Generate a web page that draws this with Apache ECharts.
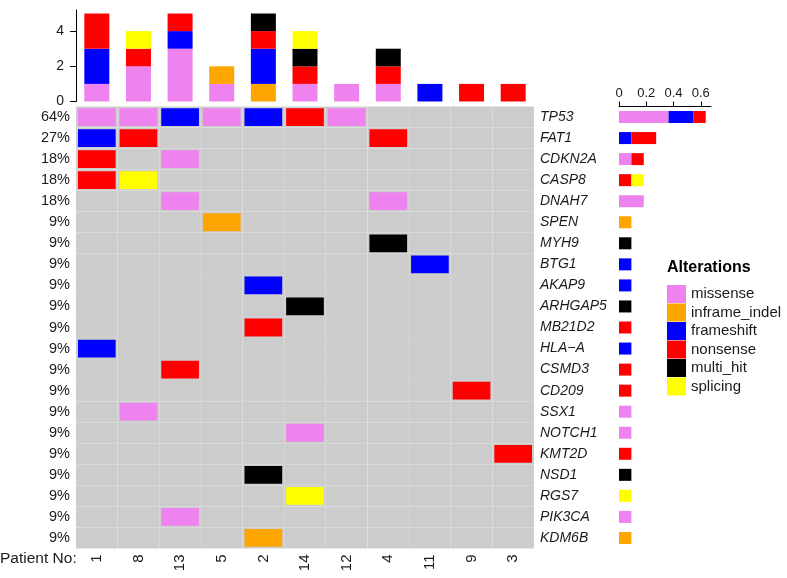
<!DOCTYPE html>
<html><head><meta charset="utf-8">
<script src="https://cdn.jsdelivr.net/npm/echarts@6/dist/echarts.min.js"></script>
<style>html,body{margin:0;padding:0;background:#fff}#c{width:787px;height:578px}</style>
</head><body><div id="c"></div>
<script>
const patients = ['1','8','13','5','2','14','12','4','11','9','3'];
const genes = ['TP53','FAT1','CDKN2A','CASP8','DNAH7','SPEN','MYH9','BTG1','AKAP9','ARHGAP5','MB21D2','HLA\u2212A','CSMD3','CD209','SSX1','NOTCH1','KMT2D','NSD1','RGS7','PIK3CA','KDM6B'];
const pctLabels = ['64%','27%','18%','18%','18%','9%','9%','9%','9%','9%','9%','9%','9%','9%','9%','9%','9%','9%','9%','9%','9%'];
const types = ['missense','inframe_indel','frameshift','nonsense','multi_hit','splicing'];
const typeColors = ['#EE82EE','#FFA500','#0000FF','#FF0000','#000000','#FFFF00'];
const topTicks = [0, 2, 4];
const rightTicks = [0, 0.2, 0.4, 0.6];
// [gene, patient, type]
const mutations = [
 ['TP53','1','missense'],['TP53','8','missense'],['TP53','13','frameshift'],['TP53','5','missense'],
 ['TP53','2','frameshift'],['TP53','14','nonsense'],['TP53','12','missense'],
 ['FAT1','1','frameshift'],['FAT1','8','nonsense'],['FAT1','4','nonsense'],
 ['CDKN2A','1','nonsense'],['CDKN2A','13','missense'],
 ['CASP8','1','nonsense'],['CASP8','8','splicing'],
 ['DNAH7','13','missense'],['DNAH7','4','missense'],
 ['SPEN','5','inframe_indel'],
 ['MYH9','4','multi_hit'],
 ['BTG1','11','frameshift'],
 ['AKAP9','2','frameshift'],
 ['ARHGAP5','14','multi_hit'],
 ['MB21D2','2','nonsense'],
 ['HLA\u2212A','1','frameshift'],
 ['CSMD3','13','nonsense'],
 ['CD209','9','nonsense'],
 ['SSX1','8','missense'],
 ['NOTCH1','14','missense'],
 ['KMT2D','3','nonsense'],
 ['NSD1','2','multi_hit'],
 ['RGS7','14','splicing'],
 ['PIK3CA','13','missense'],
 ['KDM6B','2','inframe_indel']
];
const nSamples = patients.length;

const chart = echarts.init(document.getElementById('c'), null, {renderer:'canvas'});
const FONT = 'Liberation Sans, Arial, sans-serif';
const TXT = '#1a1a1a';

// background cells
const bgData = [];
patients.forEach((p, pi) => genes.forEach((g, gi) => bgData.push([pi, gi])));

function tileRender(fw, fh, fill, stroke) {
  return function (params, api) {
    const c = api.coord([api.value(0), api.value(1)]);
    const s = api.size([1, 1]);
    const w = s[0] * fw, h = s[1] * fh;
    return {type:'rect', shape:{x:c[0]-w/2, y:c[1]-h/2, width:w, height:h},
      style:{fill: fill, stroke: stroke, lineWidth: stroke ? 1 : 0}};
  };
}

const series = [];
series.push({type:'custom', xAxisIndex:1, yAxisIndex:1, data:bgData, silent:true,
  renderItem: tileRender(1, 1, '#cccccc', 'rgba(255,255,255,0.08)')});

types.forEach((t, ti) => {
  const d = mutations.filter(m => m[2] === t).map(m => [patients.indexOf(m[1]), genes.indexOf(m[0])]);
  series.push({type:'custom', name:t, xAxisIndex:1, yAxisIndex:1, data:d,
    itemStyle:{color:typeColors[ti]},
    renderItem: tileRender(0.905, 0.845, typeColors[ti], null)});
});

// top bars: counts per patient per type
types.forEach((t, ti) => {
  const d = patients.map(p => {
    const n = mutations.filter(m => m[1] === p && m[2] === t).length;
    return n === 0 ? '-' : n;
  });
  series.push({type:'bar', name:t, stack:'top', xAxisIndex:0, yAxisIndex:0, data:d,
    barWidth:25, itemStyle:{color:typeColors[ti]}, silent:true});
});

// right bars: fraction per gene per type
types.forEach((t, ti) => {
  const d = genes.map(g => {
    const n = mutations.filter(m => m[0] === g && m[2] === t).length;
    return n === 0 ? '-' : n / nSamples;
  });
  series.push({type:'bar', name:t, stack:'right', xAxisIndex:2, yAxisIndex:3, data:d,
    barWidth:12, itemStyle:{color:typeColors[ti]}, silent:true});
});

const option = {
  animation:false,
  backgroundColor:'#fff',
  textStyle:{fontFamily:FONT},
  title:{text:'Alterations', left:662, top:255,
    textStyle:{fontSize:16, fontWeight:'bold', color:'#000', fontFamily:FONT}},
  legend:{data:types, orient:'vertical', left:662, top:280, itemWidth:19, itemHeight:18,
    itemGap:0.5, icon:'rect', selectedMode:false,
    textStyle:{fontSize:15, color:TXT, fontFamily:FONT}},
  grid:[
    {left:76, width:458, top:10, height:91.5},
    {left:76, width:458, top:106.5, height:442},
    {left:619, width:92, top:106.5, height:442}
  ],
  xAxis:[
    {type:'category', gridIndex:0, data:patients, show:false},
    {type:'category', gridIndex:1, data:patients, position:'bottom',
      axisLine:{show:false}, axisTick:{show:false},
      axisLabel:{rotate:90, fontSize:15, color:TXT, margin:6, fontFamily:FONT}},
    {type:'value', gridIndex:2, position:'top', min:0, max:0.675,
      axisLine:{show:true, lineStyle:{color:'#000', width:1}},
      axisTick:{show:true, length:5, customValues:rightTicks, lineStyle:{color:'#000'}},
      axisLabel:{customValues:rightTicks, fontSize:13, color:TXT, margin:7, fontFamily:FONT,
        formatter:v => (v === 0 ? '0' : String(v))},
      splitLine:{show:false}}
  ],
  yAxis:[
    {type:'value', gridIndex:0, min:0, max:5.2,
      axisLine:{show:true, lineStyle:{color:'#000', width:1}},
      axisTick:{show:true, length:6, customValues:topTicks, lineStyle:{color:'#000'}},
      axisLabel:{customValues:topTicks, fontSize:14, color:TXT, margin:12, fontFamily:FONT},
      splitLine:{show:false}},
    {type:'category', gridIndex:1, data:genes, inverse:true, position:'left',
      axisLine:{show:false}, axisTick:{show:false},
      axisLabel:{fontSize:14.5, color:TXT, margin:6, fontFamily:FONT,
        formatter:(v, i) => pctLabels[i]}},
    {type:'category', gridIndex:1, data:genes, inverse:true, position:'right',
      axisLine:{show:false}, axisTick:{show:false},
      axisLabel:{fontSize:14, color:TXT, margin:6, fontStyle:'italic', fontFamily:FONT, align:'left'}},
    {type:'category', gridIndex:2, data:genes, inverse:true, show:false}
  ],
  graphic:[
    {type:'text', left:0, top:551, style:{text:'Patient No:', fontSize:15.5, fill:TXT, fontFamily:FONT}}
  ],
  series: series
};
chart.setOption(option);
</script>
</body></html>
